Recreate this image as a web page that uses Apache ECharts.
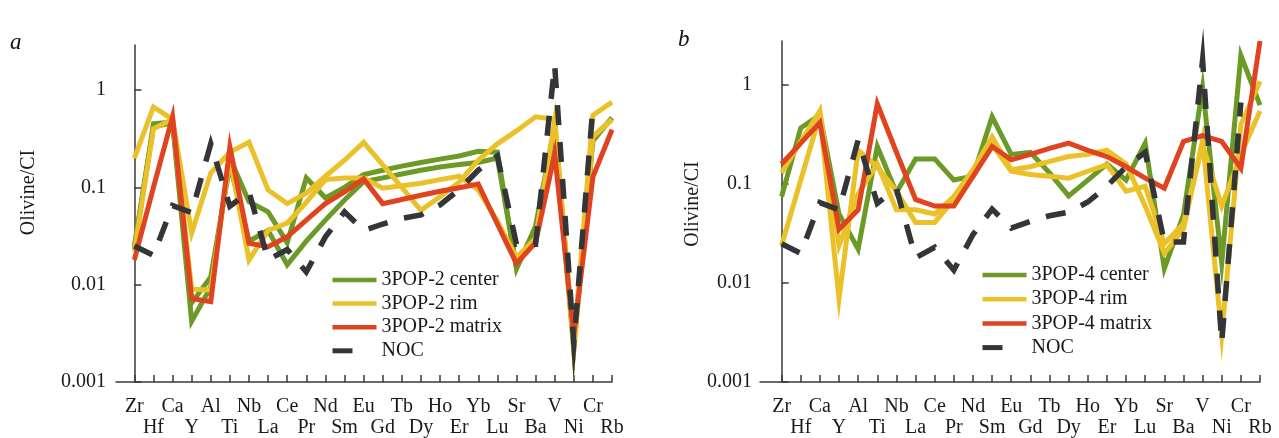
<!DOCTYPE html>
<html>
<head>
<meta charset="utf-8">
<script src="https://cdn.jsdelivr.net/npm/echarts@6/dist/echarts.min.js"></script>
<style>
html,body{margin:0;padding:0;background:#fff;}
#c{width:1279px;height:438px;}
</style>
</head>
<body>
<div id="c"></div>
<script>
// ---------- data ----------
const categories = ['Zr','Hf','Ca','Y','Al','Ti','Nb','La','Ce','Pr','Nd','Sm','Eu','Gd','Tb','Dy','Ho','Er','Yb','Lu','Sr','Ba','V','Ni','Cr','Rb'];
const yTickValues = [0.001, 0.01, 0.1, 1];

const noc = [0.025,0.02,0.065,0.055,0.28,0.064,0.09,0.018,0.023,0.0135,0.031,0.056,0.036,0.042,0.048,0.052,0.066,0.095,0.15,0.21,0.026,0.026,1.8,0.0025,0.67,null];

// panel a (3POP-2)
const a_center1 = [0.023,0.45,0.47,0.0042,0.0095,0.2,0.071,0.056,0.027,0.125,0.078,0.1,0.135,0.15,0.165,0.18,0.195,0.21,0.235,0.23,0.0145,0.04,0.42,0.0024,0.3,0.52];
const a_center2 = [0.025,0.42,0.46,0.0065,0.012,0.17,0.028,0.036,0.016,0.028,0.046,0.074,0.114,0.125,0.137,0.15,0.162,0.172,0.18,0.2,0.015,0.035,0.4,0.0022,0.33,0.5];
const a_rim1 = [0.2,0.67,0.5,0.034,0.14,0.23,0.29,0.094,0.068,0.087,0.13,0.19,0.29,0.17,0.1,0.058,0.08,0.113,0.19,0.28,0.38,0.53,0.5,0.0024,0.55,0.75];
const a_rim2 = [0.022,0.4,0.5,0.009,0.0088,0.2,0.018,0.036,0.043,0.07,0.12,0.125,0.125,0.098,0.104,0.11,0.12,0.13,0.094,0.045,0.019,0.03,0.48,0.0021,0.33,0.5];
const a_matrix = [0.018,0.1,0.53,0.0072,0.0067,0.26,0.0266,0.0246,0.031,0.046,0.068,0.09,0.122,0.068,0.075,0.083,0.091,0.099,0.108,0.042,0.0165,0.027,0.22,0.003,0.128,0.39];

// panel b (3POP-4)
const b_center = [0.075,0.37,0.5,0.05,0.022,0.24,0.082,0.18,0.18,0.11,0.12,0.48,0.2,0.21,0.13,0.076,0.11,0.16,0.11,0.26,0.014,0.049,0.95,0.016,2.0,0.63];
const b_rim1 = [0.13,0.27,0.55,0.024,0.08,0.16,0.055,0.055,0.05,0.075,0.14,0.3,0.14,0.15,0.17,0.19,0.2,0.22,0.16,0.06,0.02,0.035,0.28,0.003,0.4,1.1];
const b_rim2 = [0.024,0.11,0.5,0.007,0.22,0.15,0.085,0.041,0.041,0.07,0.12,0.25,0.135,0.125,0.12,0.115,0.135,0.157,0.085,0.095,0.025,0.04,0.25,0.06,0.2,0.55];
const b_matrix = [0.16,0.26,0.42,0.035,0.055,0.65,0.21,0.07,0.06,0.06,0.12,0.24,0.176,0.2,0.23,0.26,0.22,0.19,0.15,0.115,0.091,0.27,0.31,0.27,0.145,2.8];

// ---------- styling ----------
const FONT = 'Liberation Serif';
const GREEN = '#6c9a26', YELLOW = '#ebc12a', RED = '#e0431f', DARK = '#333538';
const AXIS = '#3a3a3a';

const pairs = arr => arr.map((v, i) => [i, v]);

function lineSeries(name, arr, color, gi, dashed) {
  return {
    type: 'line', name: name, data: pairs(arr),
    xAxisIndex: gi * 2, yAxisIndex: gi,
    symbol: 'none', clip: false, silent: true, animation: false,
    itemStyle: { color: color },
    lineStyle: dashed
      ? { color: color, width: 5.5, type: [20, 17], join: 'miter', miterLimit: 40, cap: 'butt' }
      : { color: color, width: 5, join: 'miter', miterLimit: 20 },
    z: dashed ? 5 : 3
  };
}

const allIdx = categories.map((c, i) => i);
const evenIdx = allIdx.filter(i => i % 2 === 0);
const oddIdx = allIdx.filter(i => i % 2 === 1);

const labelStyle = { fontFamily: FONT, fontSize: 20, color: '#1a1a1a', lineHeight: 21 };

// main x axis: line, all ticks, upper row of labels
function xAxisMain(gi, min) {
  return {
    type: 'value', gridIndex: gi, min: min, max: 25, position: 'bottom',
    splitLine: { show: false },
    axisLine: { lineStyle: { color: AXIS, width: 1.5 } },
    axisTick: { inside: true, length: 7, customValues: allIdx, lineStyle: { color: AXIS, width: 1.5 } },
    axisLabel: Object.assign({
      customValues: evenIdx, margin: 14, showMinLabel: true, showMaxLabel: true,
      formatter: v => categories[Math.round(v)]
    }, labelStyle)
  };
}
// companion x axis: lower row of labels only
function xAxisLower(gi, min) {
  return {
    type: 'value', gridIndex: gi, min: min, max: 25, position: 'bottom',
    splitLine: { show: false },
    axisLine: { show: false },
    axisTick: { show: false },
    axisLabel: Object.assign({
      customValues: oddIdx, margin: 35, showMinLabel: true, showMaxLabel: true,
      formatter: v => categories[Math.round(v)]
    }, labelStyle)
  };
}

function yAxis(gi, max, margin, nameGap, pad) {
  return {
    type: 'log', logBase: 10, gridIndex: gi, min: 0.001, max: max,
    name: 'Olivine/CI', nameLocation: 'middle', nameRotate: 90, nameGap: nameGap,
    nameTextStyle: { fontFamily: FONT, fontSize: 20, color: '#1a1a1a', padding: [0, 0, 0, pad] },
    splitLine: { show: false },
    axisLine: { lineStyle: { color: AXIS, width: 1.5 } },
    axisTick: { inside: true, length: 7, lineStyle: { color: AXIS, width: 1.5 } },
    axisLabel: {
      margin: margin, fontFamily: FONT, fontSize: 20, color: '#1a1a1a',
      showMaxLabel: false,
      formatter: v => {
        const hit = yTickValues.find(t => Math.abs(Math.log10(v) - Math.log10(t)) < 1e-6);
        return hit === undefined ? '' : String(hit);
      }
    }
  };
}

function legend(left, top, gap, names) {
  return {
    orient: 'vertical', left: left, top: top, itemGap: gap, padding: 0,
    itemWidth: 44, itemHeight: 14, selectedMode: false,
    textStyle: { fontFamily: FONT, fontSize: 20, color: '#1a1a1a', lineHeight: 20 },
    itemStyle: { opacity: 0 },
    lineStyle: { width: 4.5 },
    data: [
      names[0], names[1], names[2],
      { name: 'NOC', lineStyle: { type: [20, 40], width: 5 } }
    ]
  };
}

const option = {
  backgroundColor: '#ffffff',
  animation: false,
  title: [
    { text: 'a', left: 5, top: 26, textStyle: { fontFamily: FONT, fontStyle: 'italic', fontWeight: 'normal', fontSize: 23, color: '#111' } },
    { text: 'b', left: 673, top: 23, textStyle: { fontFamily: FONT, fontStyle: 'italic', fontWeight: 'normal', fontSize: 23, color: '#111' } }
  ],
  grid: [
    { left: 116, top: 45, width: 496, height: 337 },
    { left: 760, top: 41, width: 500, height: 342 }
  ],
  xAxis: [xAxisMain(0, -0.96), xAxisLower(0, -0.96), xAxisMain(1, -1.13), xAxisLower(1, -1.13)],
  yAxis: [yAxis(0, 2.9, 10, 77, 42), yAxis(1, 2.8, 8, 56, 15)],
  legend: [
    legend(330, 270, 3.6, ['3POP-2 center', '3POP-2 rim', '3POP-2 matrix']),
    legend(980, 265, 4.2, ['3POP-4 center', '3POP-4 rim', '3POP-4 matrix'])
  ],
  series: [
    lineSeries('3POP-2 center', a_center1, GREEN, 0),
    lineSeries('3POP-2 center', a_center2, GREEN, 0),
    lineSeries('3POP-2 rim', a_rim1, YELLOW, 0),
    lineSeries('3POP-2 rim', a_rim2, YELLOW, 0),
    lineSeries('3POP-2 matrix', a_matrix, RED, 0),
    lineSeries('NOC', noc, DARK, 0, true),
    lineSeries('3POP-4 center', b_center, GREEN, 1),
    lineSeries('3POP-4 rim', b_rim1, YELLOW, 1),
    lineSeries('3POP-4 rim', b_rim2, YELLOW, 1),
    lineSeries('3POP-4 matrix', b_matrix, RED, 1),
    lineSeries('NOC', noc, DARK, 1, true)
  ]
};

const chart = echarts.init(document.getElementById('c'), null, { renderer: 'canvas' });
chart.setOption(option);
</script>
</body>
</html>
